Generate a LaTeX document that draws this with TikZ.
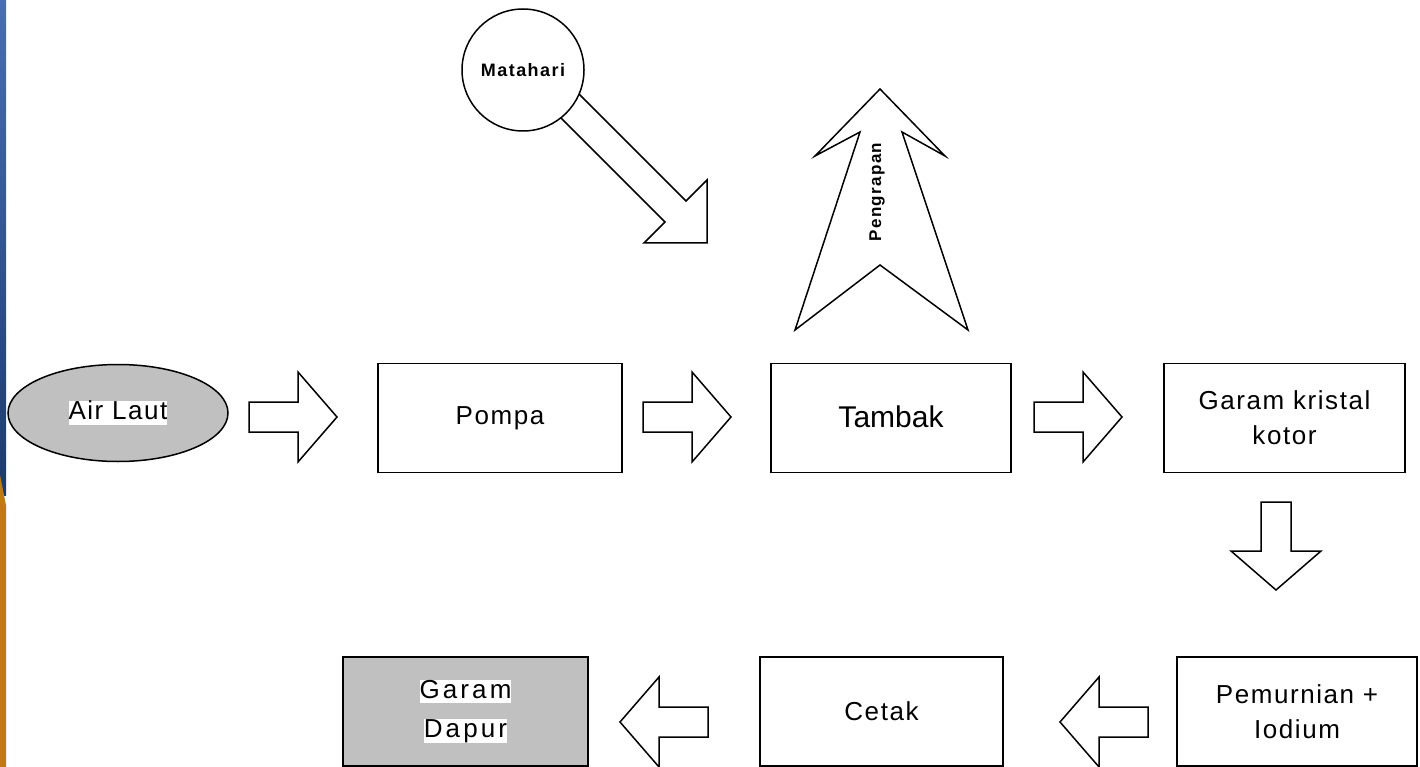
\documentclass[tikz,border=0pt]{standalone}
\usepackage{fontspec}
\setmainfont{Liberation Sans}
\newfontfamily\spfont[LetterSpace=6]{Liberation Sans}
\newfontfamily\widefont[LetterSpace=12]{Liberation Sans}
\newfontfamily\boldsp[LetterSpace=8]{Liberation Sans Bold}
\usetikzlibrary{shapes.geometric}
\definecolor{boxgray}{RGB}{192,192,192}
\definecolor{stripblue}{RGB}{72,112,172}
\definecolor{stripnavy}{RGB}{28,58,108}
\definecolor{striporange}{RGB}{192,122,18}
\newcommand\hlt[1]{{\setlength{\fboxsep}{0pt}\colorbox{white}{\rule[-5pt]{0pt}{23pt}#1}}}
\tikzset{
  outl/.style={draw=black, line width=1.5pt, line join=miter},
  procbox/.style={outl, fill=white, rectangle, minimum width=#1, minimum height=109pt, inner sep=0pt, align=center},
  procbox/.default=242pt,
  bodytext/.style={font=\spfont\fontsize{26}{35}\selectfont},
  blockarrow/.pic={\draw[outl, fill=white] (0,-15)--(49,-15)--(49,-45)--(88,0)--(49,45)--(49,15)--(0,15)--cycle;}
}
\begin{document}
\begin{tikzpicture}[x=1pt,y=-1pt]
\useasboundingbox (0,0) rectangle (1420,767);
% slide edge strip
\fill[top color=stripblue, bottom color=stripnavy] (0,0) rectangle (6,495);
\fill[striporange] (0,475) -- (6,505) -- (6,767) -- (0,767) -- cycle;

% top row
\node[outl, ellipse, fill=boxgray, minimum width=220pt, minimum height=97pt, inner sep=0pt, bodytext] (airlaut) at (118,413) {\hlt{Air Laut}};
\node[procbox=244pt, bodytext] (pompa) at (500,418) {Pompa};
\node[procbox=240pt, font=\fontsize{30}{36}\selectfont] (tambak) at (891,418) {\raisebox{3pt}{Tambak}};
\node[procbox=241pt, bodytext] (kristal) at (1284.5,418) {Garam kristal\\kotor};

% bottom row
\node[procbox=240pt, bodytext] (pemurnian) at (1297,711.5) {Pemurnian +\\Iodium};
\node[procbox=243pt, bodytext] (cetak) at (881.5,711.5) {Cetak};
\node[procbox=245pt, fill=boxgray, font=\widefont\fontsize{26}{40}\selectfont] (dapur) at (465.5,711.5) {\hlt{Garam}\\[-1pt]\hlt{Dapur}};

% block arrows
\pic at (249,417) {blockarrow};
\pic at (643,417) {blockarrow};
\pic at (1034,417) {blockarrow};
\pic[rotate=-90] at (1276,502) {blockarrow};
\pic[rotate=180] at (1148,722) {blockarrow};
\pic[rotate=180] at (708,722) {blockarrow};

% sun arrow
\draw[outl, fill=white] (556,71) -- (686,201) -- (707,180) -- (707,243) -- (644,243) -- (665,222) -- (535,92) -- cycle;
\node[outl, circle, fill=white, minimum size=122pt, inner sep=0pt, font=\boldsp\fontsize{18}{20}\selectfont] (matahari) at (523,70) {Matahari};

% evaporation arrow
\draw[outl, fill=white] (880,89) -- (945,156) -- (902,132) -- (968,330) -- (880,265) -- (795,330) -- (860,132) -- (815,156) -- cycle;
\node[rotate=90, inner sep=0pt, font=\boldsp\fontsize{17}{20}\selectfont] (pengrapan) at (877,192) {Pengrapan};
\end{tikzpicture}
\end{document}
